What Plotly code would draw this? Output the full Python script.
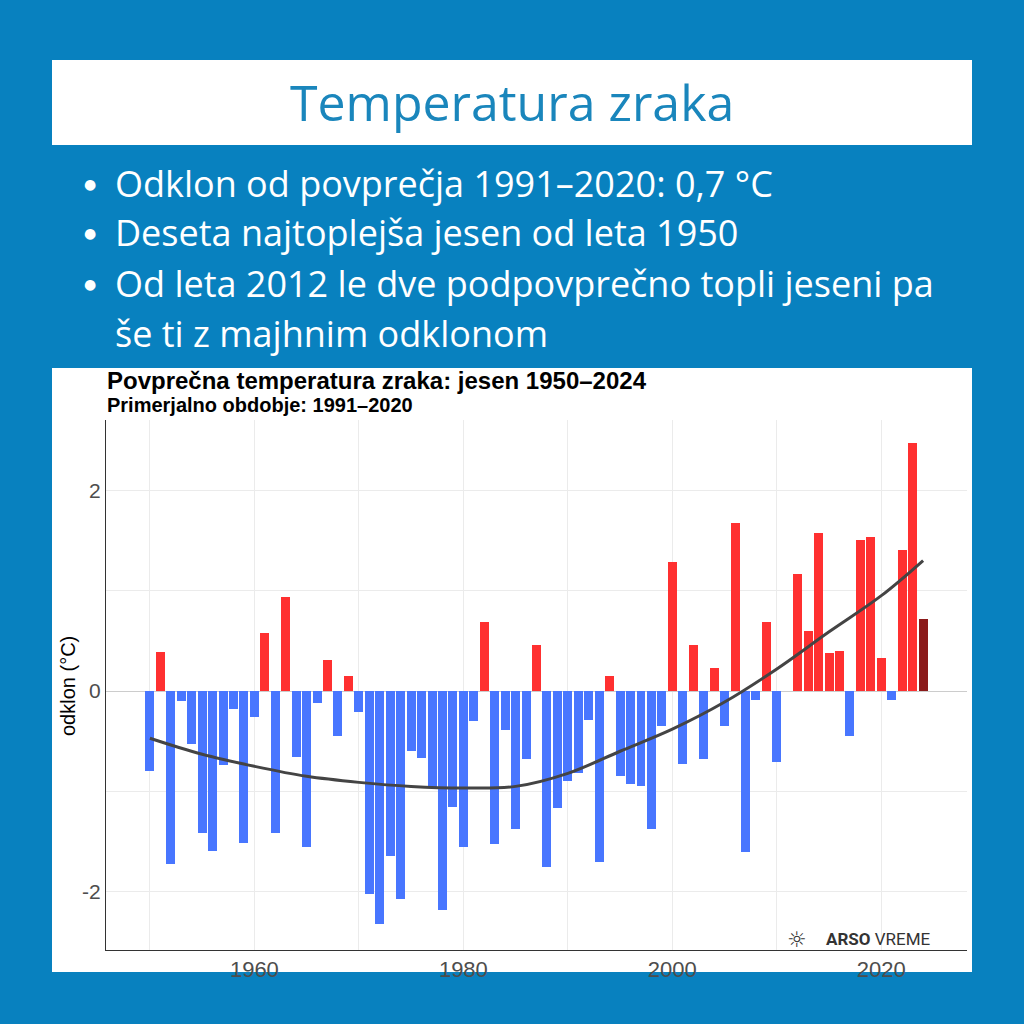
import plotly.graph_objects as go

# ---- data ----
years = list(range(1950, 2025))
anomaly = [
    -0.80, 0.39, -1.72, -0.10, -0.53, -1.41, -1.59, -0.74, -0.18, -1.51,   # 1950-1959
    -0.26, 0.58, -1.41, 0.94, -0.66, -1.55, -0.12, 0.31, -0.45, 0.15,      # 1960-1969
    -0.21, -2.02, -2.32, -1.64, -2.07, -0.60, -0.67, -0.96, -2.18, -1.16,  # 1970-1979
    -1.55, -0.30, 0.69, -1.52, -0.39, -1.37, -0.68, 0.46, -1.75, -1.17,    # 1980-1989
    -0.90, -0.82, -0.29, -1.70, 0.15, -0.85, -0.93, -0.95, -1.37, -0.35,   # 1990-1999
    1.29, -0.73, 0.46, -0.68, 0.23, -0.35, 1.67, -1.60, -0.09, 0.69,       # 2000-2009
    -0.71, 0.0, 1.17, 0.60, 1.57, 0.38, 0.40, -0.45, 1.50, 1.53,           # 2010-2019
    0.33, -0.09, 1.40, 2.47, 0.72,                                          # 2020-2024
]
trend_years = [1950, 1955, 1960, 1965, 1970, 1975, 1980, 1985, 1990, 1995,
               2000, 2005, 2010, 2015, 2020, 2024]
trend_vals = [-0.47, -0.63, -0.75, -0.85, -0.91, -0.95, -0.965, -0.95, -0.82, -0.60,
              -0.38, -0.11, 0.22, 0.59, 0.95, 1.30]
x_tick_vals = [1960, 1980, 2000, 2020]
x_minor_vals = [1950, 1970, 1990, 2010]
y_tick_vals = [-2, 0, 2]
y_tick_text = ["-2", "0", "2"]

title_text = "Temperatura zraka"
bullets = [
    "Odklon od povprečja 1991–2020: 0,7 °C",
    "Deseta najtoplejša jesen od leta 1950",
    "Od leta 2012 le dve podpovprečno topli jeseni pa",
]
bullet_cont = "še ti z majhnim odklonom"
chart_title = "Povprečna temperatura zraka: jesen 1950–2024"
chart_subtitle = "Primerjalno obdobje: 1991–2020"

# ---- style ----
BG = "#0881BF"
RED = "#FF3030"
BLUE = "#4876FF"
DARKRED = "#8B1A1A"
W = H = 1024

colors = []
for i, v in enumerate(anomaly):
    if i == len(anomaly) - 1:
        colors.append(DARKRED)
    elif v >= 0:
        colors.append(RED)
    else:
        colors.append(BLUE)

fig = go.Figure()
fig.add_trace(go.Bar(x=years, y=anomaly, marker=dict(color=colors, line=dict(width=0)),
                     width=0.86, showlegend=False, hoverinfo="x+y"))
fig.add_trace(go.Scatter(x=trend_years, y=trend_vals, mode="lines",
                         line=dict(color="#444444", width=3, shape="spline", smoothing=1.0),
                         showlegend=False, hoverinfo="skip"))

def px(x):
    return x / W

def py(y):
    return 1 - y / H

shapes = [
    dict(type="rect", xref="paper", yref="paper", x0=px(52), x1=px(972), y0=py(145), y1=py(60),
         fillcolor="white", line=dict(width=0), layer="below"),
    dict(type="rect", xref="paper", yref="paper", x0=px(52), x1=px(972), y0=py(972), y1=py(368),
         fillcolor="white", line=dict(width=0), layer="below"),
]

ann = []
ann.append(dict(text=title_text, x=0.5, y=py(102), xref="paper", yref="paper",
                showarrow=False, xanchor="center", yanchor="middle",
                font=dict(family="Open Sans", size=50, color="#1A86BC")))
line_y = [183, 232, 283]
for t, yy in zip(bullets, line_y):
    ann.append(dict(text="●", x=px(90), y=py(yy + 1), xref="paper", yref="paper", showarrow=False,
                    xanchor="center", yanchor="middle",
                    font=dict(family="DejaVu Sans", size=14, color="white")))
    ann.append(dict(text=t, x=px(113), y=py(yy), xref="paper", yref="paper", showarrow=False,
                    xanchor="left", yanchor="middle",
                    font=dict(family="Open Sans", size=36, color="white")))
ann.append(dict(text=bullet_cont, x=px(113), y=py(333), xref="paper", yref="paper", showarrow=False,
                xanchor="left", yanchor="middle",
                font=dict(family="Open Sans", size=36, color="white")))
ann.append(dict(text="<b>" + chart_title + "</b>", x=px(105), y=py(380), xref="paper", yref="paper",
                showarrow=False, xanchor="left", yanchor="middle",
                font=dict(family="Liberation Sans, Arial", size=24, color="black")))
ann.append(dict(text="<b>" + chart_subtitle + "</b>", x=px(105), y=py(405), xref="paper", yref="paper",
                showarrow=False, xanchor="left", yanchor="middle",
                font=dict(family="Liberation Sans, Arial", size=20, color="black")))
ann.append(dict(text="odklon (°C)", x=px(68), y=py(686), xref="paper", yref="paper",
                showarrow=False, xanchor="center", yanchor="middle", textangle=-90,
                font=dict(family="Liberation Sans Narrow, Liberation Sans, Arial", size=20, color="black")))
ann.append(dict(text="☼", x=px(797), y=py(939), xref="paper", yref="paper",
                showarrow=False, xanchor="center", yanchor="middle",
                font=dict(family="DejaVu Sans", size=22, color="#333333")))
ann.append(dict(text="<b>ARSO</b> VREME", x=px(824), y=py(939), xref="paper", yref="paper",
                showarrow=False, xanchor="left", yanchor="middle",
                font=dict(family="Roboto", size=17, color="#333333")))

fig.update_layout(
    width=W, height=H,
    margin=dict(l=0, r=0, t=0, b=0),
    paper_bgcolor=BG,
    plot_bgcolor="white",
    bargap=0,
    shapes=shapes,
    annotations=ann,
    xaxis=dict(domain=[px(106), px(967)], range=[1945.8, 2028.2],
               tickvals=x_tick_vals, ticktext=[str(v) for v in x_tick_vals],
               showgrid=True, gridcolor="#EBEBEB", gridwidth=1,
               minor=dict(tickvals=x_minor_vals, showgrid=True, gridcolor="#EBEBEB", gridwidth=1),
               showline=True, linecolor="#333333", linewidth=1, zeroline=False,
               ticks="", tickfont=dict(family="Liberation Sans Narrow, Liberation Sans, Arial",
                                      size=22, color="#4D4D4D"),
               fixedrange=True),
    yaxis=dict(domain=[py(950), py(420)], range=[-2.58, 2.70],
               tickvals=y_tick_vals, ticktext=y_tick_text,
               showgrid=True, gridcolor="#EBEBEB", gridwidth=1,
               minor=dict(tickvals=[-1, 1], showgrid=True, gridcolor="#EBEBEB", gridwidth=1),
               zeroline=True, zerolinecolor="#CCCCCC", zerolinewidth=1,
               showline=True, linecolor="#333333", linewidth=1,
               ticks="", tickfont=dict(family="Liberation Sans Narrow, Liberation Sans, Arial",
                                      size=21, color="#4D4D4D"),
               fixedrange=True),
)

fig.write_html("out.html", config={"displayModeBar": False},
               post_script="document.body.style.margin='0px';document.body.style.background='" + BG + "';")
